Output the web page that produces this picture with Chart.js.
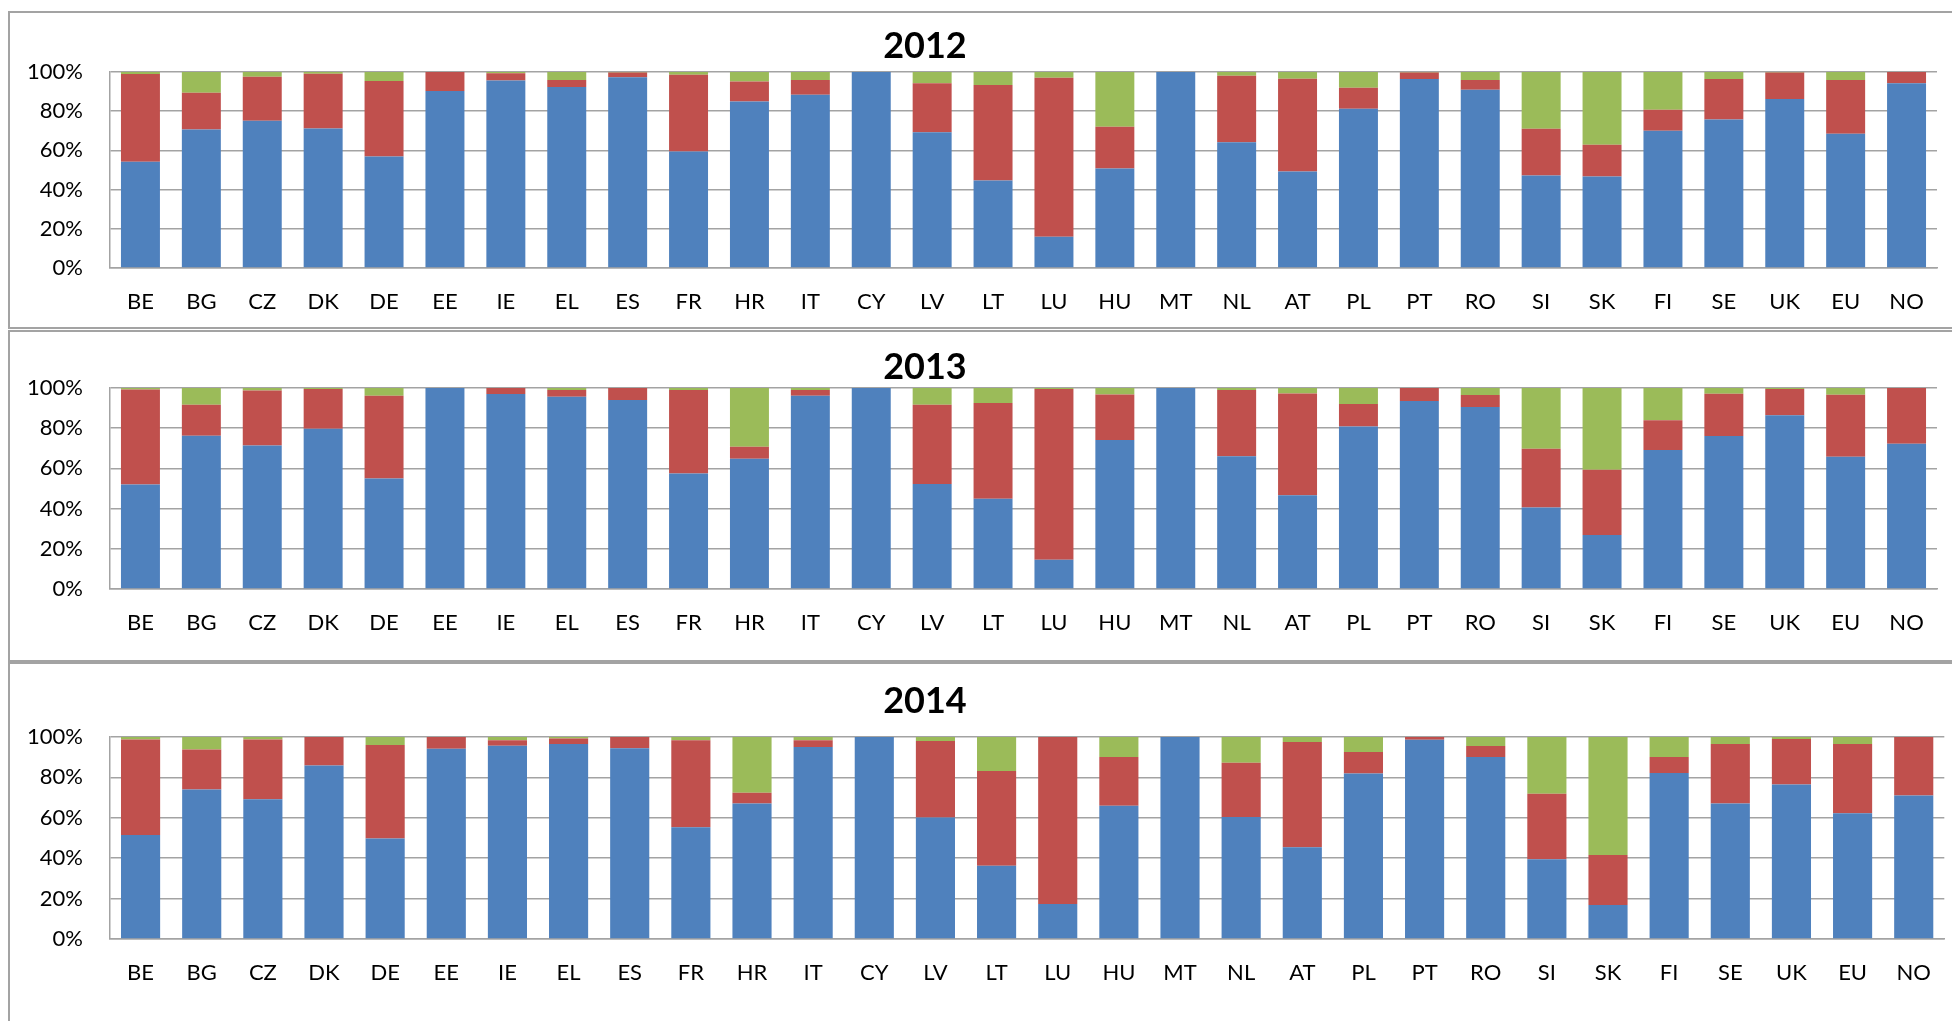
<!DOCTYPE html>
<html>
<head>
<meta charset="utf-8">
<script src="https://cdn.jsdelivr.net/npm/chart.js@4.4.1/dist/chart.umd.min.js"></script>
<style>
html, body { margin: 0; padding: 0; background: #fff; overflow: hidden; width: 1952px; height: 1021px; }
.panel { position: absolute; left: 8px; width: 2000px; border: 2px solid #a3a3a3; box-sizing: border-box; }
.title { position: absolute; left: 825px; width: 200px; text-align: center; font: bold 36px Lato; line-height: 36px; color: #000; }
canvas { position: absolute; left: 0; }
</style>
</head>
<body>
<div class="panel" style="top:11px;height:318px"></div>
<div class="panel" style="top:330px;height:332px"></div>
<div class="panel" style="top:662px;height:400px"></div>

<canvas id="c2012" width="1952" height="316" style="top:12px"></canvas>
<canvas id="c2013" width="1952" height="330" style="top:331px"></canvas>
<canvas id="c2014" width="1952" height="358" style="top:663px"></canvas>

<div class="title" style="top:26px">2012</div>
<div class="title" style="top:347px">2013</div>
<div class="title" style="top:681px">2014</div>

<script>
// categories (countries)
var countries = ['BE','BG','CZ','DK','DE','EE','IE','EL','ES','FR','HR','IT','CY','LV','LT','LU','HU','MT','NL','AT','PL','PT','RO','SI','SK','FI','SE','UK','EU','NO'];
var yTicks = [0, 20, 40, 60, 80, 100];

// 2012 (shares in %)
var blue2012  = [54.2,70.7,75.1,71.2,56.9,90.3,95.7,92.3,97.3,59.5,85.0,88.4,100,69.3,44.6,16.0,50.8,100,64.1,49.2,81.3,96.4,91.0,47.2,46.7,70.0,75.8,86.2,68.5,94.2];
var red2012   = [44.8,18.7,22.5,27.9,38.5,9.7,3.6,3.6,2.5,39.1,10.2,7.5,0,24.9,48.8,81.1,21.3,0,34.0,47.4,10.7,3.3,4.9,23.8,16.2,10.7,20.6,13.5,27.4,5.8];
var green2012 = [1.0,10.6,2.4,0.9,4.6,0,0.7,4.1,0.2,1.4,4.8,4.1,0,5.8,6.6,2.9,27.9,0,1.9,3.4,8.0,0.3,4.1,29.0,37.1,19.3,3.6,0.3,4.1,0];

// 2013
var blue2013  = [52.0,76.2,71.4,79.7,55.0,100,97.0,95.7,94.0,57.5,64.8,96.2,100,52.3,44.9,14.5,74.1,100,66.1,46.7,80.9,93.5,90.5,40.5,26.9,69.1,76.1,86.4,65.8,72.3];
var red2013   = [47.2,15.5,27.3,19.8,41.2,0,3.0,3.3,6.0,41.5,6.0,2.8,0,39.4,47.6,85.0,22.7,0,32.9,50.6,11.1,6.5,6.0,29.3,32.4,14.8,21.1,13.1,30.9,27.7];
var green2013 = [0.8,8.3,1.3,0.5,3.8,0,0,1.0,0,1.0,29.2,1.0,0,8.3,7.5,0.5,3.2,0,1.0,2.7,8.0,0,3.5,30.2,40.7,16.1,2.8,0.5,3.3,0];

// 2014
var blue2014  = [51.5,74.0,69.2,85.9,49.8,94.2,95.7,96.5,94.4,55.3,67.1,95.1,100,60.2,36.3,17.3,66.0,100,60.4,45.4,81.9,98.7,90.1,39.5,16.8,82.2,67.1,76.5,62.3,71.1];
var red2014   = [47.3,19.8,29.6,14.1,46.3,5.8,2.7,2.8,5.6,43.1,5.3,3.3,0,37.8,46.9,82.7,24.1,0,26.8,52.1,10.7,1.3,5.5,32.4,24.8,7.9,29.4,22.5,34.2,28.9];
var green2014 = [1.2,6.2,1.2,0,3.9,0,1.6,0.7,0,1.6,27.6,1.6,0,2.0,16.8,0,9.9,0,12.8,2.5,7.4,0,4.4,28.1,58.4,9.9,3.5,1.0,3.5,0];

var gridColor = '#a3a3a3';
var font = { family: 'Lato', size: 22 };

function drawPanel(id, blue, red, green, padTop, padRight, axisHeight) {
    var ctx = document.getElementById(id).getContext('2d');
    return new Chart(ctx, {
        type: 'bar',
        data: {
            labels: countries,
            datasets: [
                { data: blue,  backgroundColor: '#4f81bd' },
                { data: red,   backgroundColor: '#c0504d' },
                { data: green, backgroundColor: '#9bbb59' }
            ]
        },
        options: {
            responsive: false,
            animation: false,
            devicePixelRatio: 1,
            layout: { padding: { top: padTop, right: padRight, left: 0, bottom: 0 } },
            datasets: { bar: { categoryPercentage: 1, barPercentage: 0.64, borderWidth: 0 } },
            plugins: { legend: { display: false }, tooltip: { enabled: false } },
            scales: {
                x: {
                    stacked: true,
                    grid: { display: false, drawTicks: false },
                    border: { display: true, color: gridColor, width: 1.5 },
                    ticks: { color: '#000', font: font, padding: 21, maxRotation: 0, autoSkip: false },
                    afterFit: function(scale) { scale.height = axisHeight; }
                },
                y: {
                    stacked: true,
                    min: 0,
                    max: 100,
                    afterBuildTicks: function(scale) {
                        scale.ticks = yTicks.map(function(v) { return { value: v }; });
                    },
                    grid: { color: gridColor, lineWidth: 1.5, drawTicks: false },
                    border: { display: true, color: gridColor, width: 1.5 },
                    ticks: { color: '#000', font: font, padding: 27, callback: function(v) { return v + '%'; } },
                    afterFit: function(scale) { scale.width = 110; }
                }
            }
        }
    });
}

drawPanel('c2012', blue2012, red2012, green2012, 60, 15, 60);
drawPanel('c2013', blue2013, red2013, green2013, 57, 15, 72);
drawPanel('c2014', blue2014, red2014, green2014, 74, 4, 82);
</script>
</body>
</html>
